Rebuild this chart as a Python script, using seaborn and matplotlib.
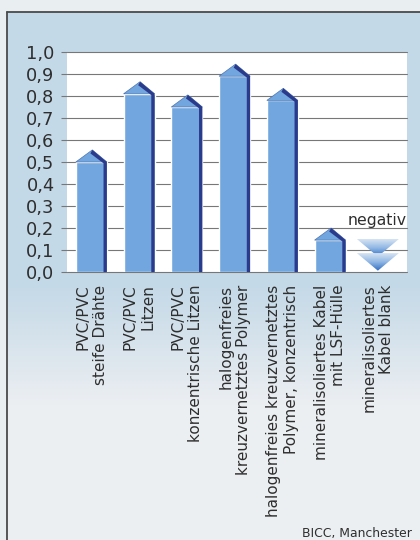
import numpy as np
import pandas as pd
import matplotlib
matplotlib.use("Agg")
import matplotlib.pyplot as plt
from matplotlib.colors import LinearSegmentedColormap, to_rgb
from matplotlib.patches import Polygon
import seaborn as sns

# data
categories = [
    "PVC/PVC\nsteife Drähte",
    "PVC/PVC\nLitzen",
    "PVC/PVC\nkonzentrische Litzen",
    "halogenfreies\nkreuzvernetztes Polymer",
    "halogenfreies kreuzvernetztes\nPolymer, konzentrisch",
    "mineralisoliertes Kabel\nmit LSF-Hülle",
    "mineralisoliertes\nKabel blank",
]
values = [0.50, 0.81, 0.75, 0.89, 0.78, 0.145, np.nan]   # last one: "negativ"
ytick_values = [0.0, 0.1, 0.2, 0.3, 0.4, 0.5, 0.6, 0.7, 0.8, 0.9, 1.0]
ytick_labels = ["0,0", "0,1", "0,2", "0,3", "0,4", "0,5", "0,6", "0,7", "0,8", "0,9", "1,0"]
negative_label = "negativ"
source_label = "BICC, Manchester"

BAR = "#72a6df"
BAR_DARK = "#2b3b8c"
GRID = "#777777"
TEXT = "#2e2e2e"

sns.set_theme(style="white")
plt.rcParams.update({
    "font.family": ["DejaVu Sans"],
    "axes.spines.top": False,
    "axes.spines.right": False,
    "axes.spines.left": False,
    "axes.spines.bottom": False,
    "axes.axisbelow": True,
})

W, H = 420, 540
fig = plt.figure(figsize=(W / 100, H / 100), dpi=100)

# scanned page background: blue panel fading towards the bottom
bg = fig.add_axes([0, 0, 1, 1], zorder=0)
img = np.zeros((H, W, 3))
blue = np.array(to_rgb("#c4d9e7"))
pale = np.array(to_rgb("#eceff2"))
outside = np.array(to_rgb("#e9eef1"))
for r in range(H):
    t = np.clip((r - 285) / 120, 0, 1)
    img[r, :, :] = blue * (1 - t) + pale * t
img[:12, :, :] = outside
img[:, :7, :] = outside
bg.imshow(img, extent=[0, 1, 0, 1], aspect="auto", interpolation="bilinear")
bg.plot([7 / W, 1], [1 - 12 / H, 1 - 12 / H], color="#4a4a4a", lw=1.3)
bg.plot([7 / W, 7 / W], [0, 1 - 12 / H], color="#4a4a4a", lw=1.3)
bg.set_xlim(0, 1)
bg.set_ylim(0, 1)
bg.axis("off")

ax = fig.add_axes([67 / W, 1 - 272 / H, 340 / W, 220 / H], zorder=1)
ax.set_facecolor("white")

df = pd.DataFrame({"cat": categories, "val": values})
sns.barplot(data=df.dropna(), x="cat", y="val", order=categories,
            color=BAR, saturation=1, width=0.65, ax=ax, zorder=2)

# pointed roof + dark right side on every bar
roof = 0.055
side = 0.07
for p in list(ax.patches):
    x0, w, h = p.get_x(), p.get_width(), p.get_height()
    x1 = x0 + w
    xp = x0 + w / 2 + 0.02
    ax.add_patch(Polygon([(x0, h), (xp, h + roof), (x1, h)], closed=True,
                         facecolor=BAR, edgecolor="#4f74b0", lw=0.5, zorder=2))
    ax.add_patch(Polygon([(x1, 0), (x1, h), (xp, h + roof), (xp - 0.04, h + roof - 0.016),
                          (x1 - side, h - 0.006), (x1 - side, 0)], closed=True,
                         facecolor=BAR_DARK, edgecolor="none", zorder=3))

# "negativ" marker: two stacked gradient triangles
neg_idx = int(np.where(np.isnan(values))[0][0])
grad = np.linspace(0, 1, 64).reshape(-1, 1)
tri_cmap = LinearSegmentedColormap.from_list("neg", ["#d6e4f3", "#8fb6e4", "#2f6cc2"])
half_w, tri_h = 0.44, 0.08
for top in (0.15, 0.086):
    tri = Polygon([(neg_idx - half_w, top), (neg_idx + half_w, top), (neg_idx, top - tri_h)],
                  closed=True, facecolor="none", edgecolor="none")
    ax.add_patch(tri)
    im = ax.imshow(grad, cmap=tri_cmap, extent=[neg_idx - half_w, neg_idx + half_w, top - tri_h, top],
                   aspect="auto", zorder=4, interpolation="bilinear")
    im.set_clip_path(tri)

ax.text(1.0, 0.215, negative_label, transform=ax.get_yaxis_transform(),
        ha="right", va="baseline", fontsize=11.3, color=TEXT)

ax.set_xlim(-0.51, 6.61)
ax.set_ylim(0, 1.0)
ax.set_yticks(ytick_values)
ax.set_yticklabels(ytick_labels)
ax.yaxis.grid(True, color=GRID, lw=0.8)
for gl in ax.get_ygridlines():
    gl.set_clip_on(False)
ax.tick_params(axis="y", length=4, width=0.8, color=GRID, pad=5,
               labelsize=12.8, labelcolor=TEXT, left=True)
ax.set_xticks(range(len(categories)))
ax.set_xticklabels(categories, rotation=90, ha="center", va="top",
                   multialignment="right", fontsize=11, color=TEXT)
ax.tick_params(axis="x", length=0, pad=9)
ax.set_xlabel("")
ax.set_ylabel("")

fig.text(302 / W, 3 / H, source_label, ha="left", va="baseline", fontsize=8.9, color=TEXT)

fig.savefig("out.png", dpi=100)
